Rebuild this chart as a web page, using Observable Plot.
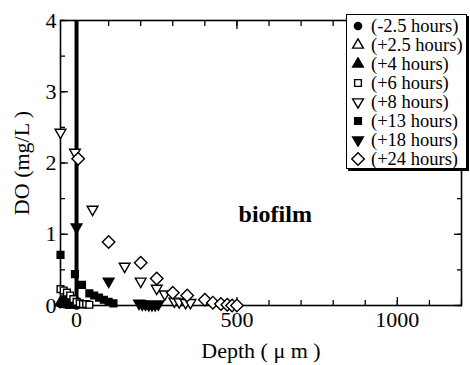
<!DOCTYPE html>
<html><head><meta charset="utf-8">
<script src="https://cdn.jsdelivr.net/npm/d3@7"></script>
<script src="https://cdn.jsdelivr.net/npm/@observablehq/plot@0.6"></script>
</head>
<body style="margin:0;background:#fff;font-family:'Liberation Serif'">
<div id="wrap" style="position:relative;width:470px;height:365px;font-family:'Liberation Serif'">
<div id="legend" style="position:absolute;left:346px;top:14px;width:121px;height:155px;border:1.5px solid #000;background:#fff;box-shadow:2px 2px 0 #000;box-sizing:border-box;font-family:'Liberation Serif';font-size:18.5px;z-index:2">
<div class="row" style="position:absolute;left:0;top:1.5px;height:19px;display:flex;align-items:center;white-space:nowrap"><svg width="14" height="14" style="margin:0 6px 0 4px"></svg><span>(-2.5 hours)</span></div>
<div class="row" style="position:absolute;left:0;top:20.5px;height:19px;display:flex;align-items:center;white-space:nowrap"><svg width="14" height="14" style="margin:0 6px 0 4px"></svg><span>(+2.5 hours)</span></div>
<div class="row" style="position:absolute;left:0;top:39.5px;height:19px;display:flex;align-items:center;white-space:nowrap"><svg width="14" height="14" style="margin:0 6px 0 4px"></svg><span>(+4 hours)</span></div>
<div class="row" style="position:absolute;left:0;top:58.5px;height:19px;display:flex;align-items:center;white-space:nowrap"><svg width="14" height="14" style="margin:0 6px 0 4px"></svg><span>(+6 hours)</span></div>
<div class="row" style="position:absolute;left:0;top:77.5px;height:19px;display:flex;align-items:center;white-space:nowrap"><svg width="14" height="14" style="margin:0 6px 0 4px"></svg><span>(+8 hours)</span></div>
<div class="row" style="position:absolute;left:0;top:96.5px;height:19px;display:flex;align-items:center;white-space:nowrap"><svg width="14" height="14" style="margin:0 6px 0 4px"></svg><span>(+13 hours)</span></div>
<div class="row" style="position:absolute;left:0;top:115.5px;height:19px;display:flex;align-items:center;white-space:nowrap"><svg width="14" height="14" style="margin:0 6px 0 4px"></svg><span>(+18 hours)</span></div>
<div class="row" style="position:absolute;left:0;top:134.5px;height:19px;display:flex;align-items:center;white-space:nowrap"><svg width="14" height="14" style="margin:0 6px 0 4px"></svg><span>(+24 hours)</span></div>
</div>
</div>
<script>
// ---- data ----
const seriesLabels = ["(-2.5 hours)","(+2.5 hours)","(+4 hours)","(+6 hours)","(+8 hours)","(+13 hours)","(+18 hours)","(+24 hours)"];
const depth_m2_5 = [-50,-40,-30,-20,-10,0];
const do_m2_5    = [0.02,0.02,0.01,0.01,0.01,0.0];
const depth_p2_5 = [-50,-40,-30,-20,-10,0,10];
const do_p2_5    = [0.04,0.04,0.03,0.03,0.02,0.02,0.01];
const depth_p4 = [-45,-35,-25,-15,-5,5];
const do_p4    = [0.05,0.04,0.04,0.03,0.03,0.02];
const depth_p6 = [-50,-40,-30,-20,-10,0,10,20,30,40];
const do_p6    = [0.23,0.21,0.18,0.14,0.09,0.05,0.03,0.02,0.02,0.01];
const depth_p8 = [-50,-5,50,150,200,250,275,305,320,340,355];
const do_p8    = [2.43,2.15,1.35,0.55,0.34,0.24,0.16,0.06,0.05,0.04,0.04];
const depth_p13 = [-50,-5,17,40,55,70,85,100,115];
const do_p13    = [0.71,0.44,0.29,0.17,0.14,0.11,0.08,0.05,0.03];
const depth_p18 = [0,100,195,205,215,225,235,245,255];
const do_p18    = [1.1,0.34,0.03,0.02,0.02,0.01,0.01,0.01,0.02];
const depth_p24 = [5,100,200,250,300,345,400,425,450,470,485,500];
const do_p24    = [2.06,0.89,0.6,0.38,0.18,0.14,0.08,0.04,0.02,0.01,0.0,0.0];
const xMinorTicks = d3.range(0,1201,100);
const xMajorTicks = [0,500,1000];
const yMinorTicks = [0,0.5,1,1.5,2,2.5,3,3.5,4];
const yMajorTicks = [0,1,2,3,4];

const FONT = "Liberation Serif";
const pts = (xs, ys) => xs.map((x,i)=>({x, y: ys[i]}));
const styles = [
  {symbol:"circle", fill:"black", r:3.6},
  {symbol:"triangle", fill:"white", r:4},
  {symbol:"triangle", fill:"black", r:4},
  {symbol:"square", fill:"white", r:3.8},
  {symbol:"triangle", fill:"white", r:4, rotate:180},
  {symbol:"square", fill:"black", r:3.8},
  {symbol:"triangle", fill:"black", r:4, rotate:180},
  {symbol:"square", fill:"white", r:5, rotate:45}
];
const seriesData = [
  pts(depth_m2_5,do_m2_5), pts(depth_p2_5,do_p2_5), pts(depth_p4,do_p4), pts(depth_p6,do_p6),
  pts(depth_p8,do_p8), pts(depth_p13,do_p13), pts(depth_p18,do_p18), pts(depth_p24,do_p24)
];

const dotMarks = seriesData.map((d,i)=>Plot.dot(d,{x:"x",y:"y",symbol:()=>styles[i].symbol, r:styles[i].r,
  fill:styles[i].fill, stroke:"black", strokeWidth:1.4, rotate:styles[i].rotate||0}));

const fmt = d => String(d);
const FS = 22;
const chart = Plot.plot({
  width:470, height:365,
  marginLeft:60, marginRight:9, marginTop:20, marginBottom:60,
  style:{fontFamily:FONT, fontSize:"22px", color:"black", background:"white"},
  x:{domain:[-50,1200]},
  y:{domain:[0,4]},
  symbol:{type:"identity"},
  marks:[
    Plot.axisX({anchor:"bottom", ticks:xMinorTicks, tickSize:-5, tickFormat:()=>"", label:null, strokeWidth:1.3}),
    Plot.axisX({anchor:"bottom", ticks:xMajorTicks, tickSize:-8, tickPadding:14, tickFormat:fmt, fontSize:FS, label:"Depth ( μ m )", labelAnchor:"center", labelArrow:"none", labelOffset:52, strokeWidth:1.3}),
    Plot.axisX({anchor:"top", ticks:xMinorTicks, tickSize:-5, tickFormat:()=>"", label:null, strokeWidth:1.3}),
    Plot.axisX({anchor:"top", ticks:xMajorTicks, tickSize:-8, tickFormat:()=>"", label:null, strokeWidth:1.3}),
    Plot.axisY({anchor:"left", ticks:yMinorTicks, tickSize:-5, tickFormat:()=>"", label:null, strokeWidth:1.3}),
    Plot.axisY({anchor:"left", ticks:yMajorTicks, tickSize:-8, tickPadding:12, tickFormat:fmt, fontSize:FS, label:"DO (mg/L )", labelAnchor:"center", labelArrow:"none", labelOffset:47, strokeWidth:1.3}),
    Plot.axisY({anchor:"right", ticks:yMinorTicks, tickSize:-5, tickFormat:()=>"", label:null, strokeWidth:1.3}),
    Plot.axisY({anchor:"right", ticks:yMajorTicks, tickSize:-8, tickFormat:()=>"", label:null, strokeWidth:1.3}),
    Plot.frame({stroke:"black", strokeWidth:1.6}),
    Plot.ruleX([0],{y1:0,y2:4,stroke:"black",strokeWidth:4}),
    ...dotMarks,
    Plot.text(["biofilm"],{x:505,y:1.28,text:d=>d,fontWeight:"bold",fontSize:24,textAnchor:"start"})
  ]
});
const wrap = document.getElementById("wrap");
chart.querySelectorAll("text").forEach(t=>t.setAttribute("font-family",FONT));
chart.style.position="absolute"; chart.style.left="0"; chart.style.top="0";
wrap.insertBefore(chart, wrap.firstChild);

// legend symbols
document.querySelectorAll("#legend .row svg").forEach((svg,i)=>{
  const s=styles[i];
  const sym = {circle:d3.symbolCircle,triangle:d3.symbolTriangle,square:d3.symbolSquare}[s.symbol];
  d3.select(svg).attr("viewBox","-7 -7 14 14").append("path")
    .attr("d", d3.symbol(sym, Math.PI*s.r*s.r)())
    .attr("fill", s.fill).attr("stroke","black").attr("stroke-width",1.4)
    .attr("transform",`rotate(${s.rotate||0})`);
});
</script></body></html>
